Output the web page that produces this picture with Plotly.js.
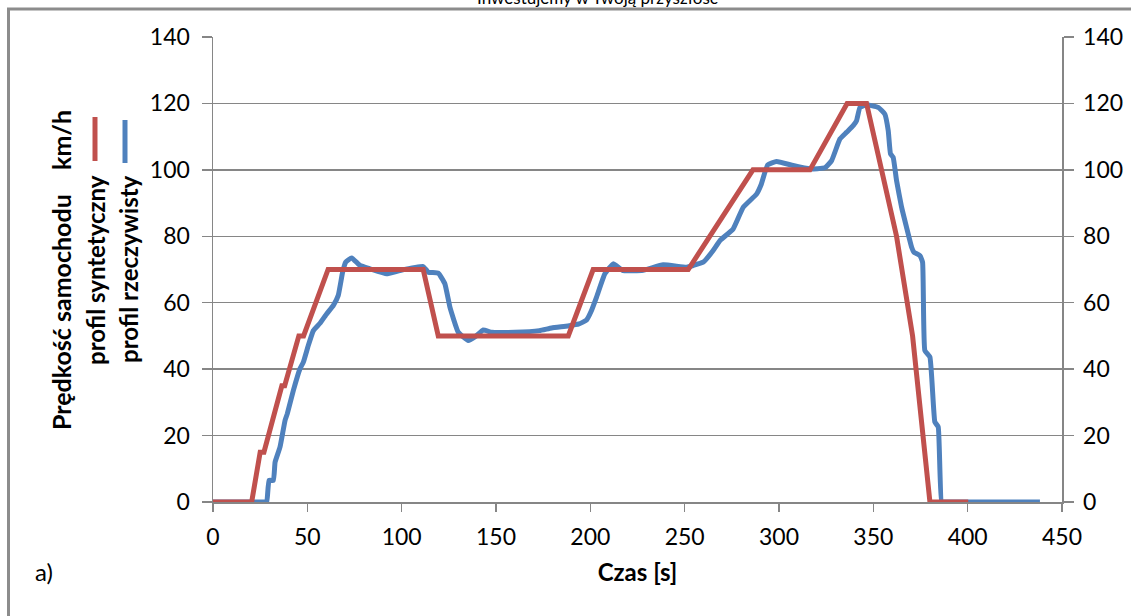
<!DOCTYPE html>
<html>
<head>
<meta charset="utf-8">
<script src="https://cdn.plot.ly/plotly-3.0.1.min.js"></script>
<style>
  html, body { margin: 0; padding: 0; background: #fff; }
  #chart { width: 1131px; height: 616px; }
</style>
</head>
<body>
<div id="chart"></div>
<script>
// Synthetic (reference) speed profile: time [s] and speed [km/h]
const synthTime  = [0, 20.5, 25, 27, 36.5, 38, 45.5, 48, 61, 111.4, 119.4, 188.3, 201.5, 251.9, 286.2, 316.4, 336.1, 346.4, 362.3, 370.8, 380, 400.3];
const synthSpeed = [0, 0,    15, 15, 35,   35, 50,   50, 70, 70,    50,    50,    70,    70,    100,   100,   120,   120,   80,    50,    0,   0];

// Measured (real) speed profile: time [s] and speed [km/h]
const realTime = [
  0, 15, 27.5, 28.5, 29.7, 32, 32.9, 35.5, 38.2, 39.4, 42.6, 46.1, 47.9, 50.5, 53.2, 56.7, 60.3, 63.8, 66.4,
  68.7, 70.3, 73.5, 77.9, 83.2, 92, 99.1, 111.4, 114.1, 119.4, 122.9, 125.6, 130, 135.3, 139.7,
  143.2, 147.7, 160, 173, 179.5, 188.1, 194, 198, 200.5, 203.3, 207.7, 212.1, 217.4, 228, 238.6,
  251, 254.5, 259.8, 265.1, 268.7, 275.7, 281, 288.1, 290.5, 294, 298.7, 307.5, 316.4, 324.3,
  327.9, 332.3, 335.8, 339.3, 341.1, 342.9, 346.4, 352.6, 356.1, 357.9, 359.1, 360.5, 362.3, 365,
  367.6, 370.3, 371.5, 374.7, 376.1, 377.3, 380, 382.6, 384.4, 386.2, 388, 400, 420, 438.3
];
const realSpeed = [
  0, 0, 0, 0, 6.5, 6.5, 12, 16.5, 24.6, 26.6, 33.6, 40.1, 42.1, 47.1, 51.6, 53.8, 56.7, 59.2, 62.2,
  69.2, 72.2, 73.5, 71.2, 70.2, 68.7, 69.7, 70.9, 69.2, 68.9, 65.7, 58.6, 51.1, 48.6, 50.1,
  51.8, 51.1, 51.1, 51.6, 52.4, 53, 53.6, 54.8, 57.5, 61.7, 68.7, 71.7, 69.7, 69.8, 71.4,
  70.7, 71.2, 72.2, 75.7, 78.7, 82.2, 88.7, 92.7, 95.5, 101.5, 102.5, 101.3, 100.3, 100.6,
  102.8, 109.3, 111.3, 113.3, 114.8, 118.8, 119.6, 118.8, 116.8, 111.8, 104.8, 103.8, 96.8, 88.7,
  82.7, 76.7, 75.2, 74.2, 72.2, 45.6, 43.6, 24.1, 22.6, 0, 0, 0, 0, 0
];

const xTicks = [0, 50, 100, 150, 200, 250, 300, 350, 400, 450];
const yTicks = [0, 20, 40, 60, 80, 100, 120, 140];

const seriesNames  = ['profil syntetyczny', 'profil rzeczywisty'];
const seriesColors = ['#C0504D', '#4F81BD'];

const FONT = 'Lato, "Open Sans", sans-serif';
const GRID = '#868686';

// plot-area geometry in pixels, used for placing decorations outside the axes
const W = 1131, H = 616;
const M = { l: 213, r: 69, t: 37, b: 114 };
const PW = W - M.l - M.r, PH = H - M.t - M.b;
const px = x => (x - M.l) / PW;
const py = y => (H - M.b - y) / PH;

const traces = [
  {
    x: realTime, y: realSpeed, name: seriesNames[1], type: 'scatter', mode: 'lines',
    line: { color: seriesColors[1], width: 5, shape: 'spline', smoothing: 0.35 },
    xaxis: 'x', yaxis: 'y', hoverinfo: 'x+y'
  },
  {
    x: synthTime, y: synthSpeed, name: seriesNames[0], type: 'scatter', mode: 'lines',
    line: { color: seriesColors[0], width: 5 },
    xaxis: 'x', yaxis: 'y2', hoverinfo: 'x+y'
  }
];

const yCommon = {
  range: [0, 140], tickvals: yTicks, ticktext: yTicks.map(String),
  ticks: 'outside', ticklen: 10, tickwidth: 1.5, tickcolor: GRID,
  showline: true, linecolor: GRID, linewidth: 1.5,
  zeroline: false, fixedrange: true,
  tickfont: { family: FONT, size: 23, color: '#000' }
};

const layout = {
  width: W, height: H,
  margin: M,
  paper_bgcolor: '#fff', plot_bgcolor: '#fff',
  showlegend: false,
  font: { family: FONT, color: '#000' },
  xaxis: {
    range: [0, 450], tickvals: xTicks, ticktext: xTicks.map(String),
    ticks: 'outside', ticklen: 8, tickwidth: 1.5, tickcolor: GRID,
    showline: true, linecolor: GRID, linewidth: 1.5,
    showgrid: false, zeroline: false, fixedrange: true,
    tickfont: { family: FONT, size: 23, color: '#000' },
    ticklabelstandoff: 6,
    title: { text: 'Czas [s]', font: { family: FONT, size: 24, weight: 'bold', color: '#000' }, standoff: 15 }
  },
  yaxis: Object.assign({}, yCommon, {
    side: 'left', showgrid: true, gridcolor: GRID, gridwidth: 1.5, ticklabelstandoff: 7
  }),
  yaxis2: Object.assign({}, yCommon, {
    side: 'right', overlaying: 'y', showgrid: false, ticklabelstandoff: 5
  }),
  shapes: [
    // outer frame of the chart object
    { type: 'rect', xref: 'paper', yref: 'paper', x0: px(8.5), x1: px(1160), y0: py(640), y1: py(9),
      line: { color: '#8c8c8c', width: 3 }, fillcolor: 'rgba(0,0,0,0)', layer: 'above' },
    // rotated legend keys
    { type: 'line', xref: 'paper', yref: 'paper', x0: px(95), x1: px(95), y0: py(161), y1: py(117),
      line: { color: seriesColors[0], width: 5 } },
    { type: 'line', xref: 'paper', yref: 'paper', x0: px(125), x1: px(125), y0: py(163), y1: py(120),
      line: { color: seriesColors[1], width: 5 } }
  ],
  annotations: [
    { text: 'Inwestujemy w Twoją przyszłość', xref: 'paper', yref: 'paper', x: px(597), y: py(-3),
      xanchor: 'center', yanchor: 'middle', showarrow: false, font: { family: FONT, size: 17, color: '#000' } },
    { text: 'Prędkość samochodu\u00a0\u00a0\u00a0\u00a0km/h', textangle: -90,
      xref: 'paper', yref: 'paper', x: px(61), y: py(270), xanchor: 'center', yanchor: 'middle',
      showarrow: false, font: { family: FONT, size: 25, weight: 'bold', color: '#000' } },
    { text: seriesNames[0], textangle: -90,
      xref: 'paper', yref: 'paper', x: px(95), y: py(270), xanchor: 'center', yanchor: 'middle',
      showarrow: false, font: { family: FONT, size: 24, weight: 'bold', color: '#000' } },
    { text: seriesNames[1], textangle: -90,
      xref: 'paper', yref: 'paper', x: px(128), y: py(269), xanchor: 'center', yanchor: 'middle',
      showarrow: false, font: { family: FONT, size: 24, weight: 'bold', color: '#000' } },
    { text: 'a)', xref: 'paper', yref: 'paper', x: px(44), y: py(571), xanchor: 'center', yanchor: 'middle',
      showarrow: false, font: { family: FONT, size: 24, color: '#000' } }
  ]
};

Plotly.newPlot('chart', traces, layout, { displayModeBar: false, staticPlot: true }).then(gd => {
  // let the thick lines lying on the zero axis show their full width
  gd.querySelectorAll('g.plot').forEach(g => g.removeAttribute('clip-path'));
});
</script>
</body>
</html>
